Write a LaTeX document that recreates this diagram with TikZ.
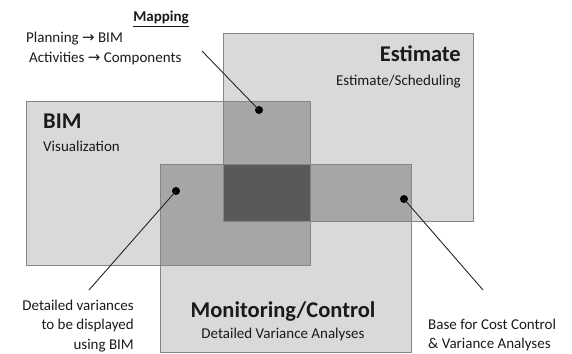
\documentclass[tikz,border=0pt]{standalone}
\usepackage{fontspec}
\setmainfont{Carlito}
\newfontfamily\arrowfont{DejaVu Sans}
\newcommand{\rarr}{{\arrowfont\char"2192}}
\definecolor{lightfill}{HTML}{D9D9D9}
\definecolor{midfill}{HTML}{A6A6A6}
\definecolor{darkfill}{HTML}{595959}
\definecolor{edgegray}{HTML}{858585}
\definecolor{inkcol}{HTML}{1A1A1A}
\tikzset{
  x=1pt, y=-1pt,
  panel/.style={draw=edgegray, line width=0.8pt},
  pin/.style={circle, fill=black, inner sep=0pt, minimum size=8pt},
  leader/.style={draw=black!85, line width=0.9pt},
  lbl/.style={inner sep=0pt, text=inkcol, font=\fontsize{15}{18}\selectfont},
  title/.style={inner sep=0pt, text=inkcol, font=\fontsize{22.5}{26}\bfseries\selectfont},
  sub/.style={inner sep=0pt, text=inkcol, font=\fontsize{15}{18}\selectfont},
}
\begin{document}
\begin{tikzpicture}
\useasboundingbox (0,0) rectangle (572,353);
% three panels
\fill[lightfill] (223,33) rectangle (473,221);
\fill[lightfill] (26,101) rectangle (310,265);
\fill[lightfill] (160,164) rectangle (411,352);
% pairwise overlaps
\fill[midfill] (223,101) rectangle (310,221);
\fill[midfill] (160,164) rectangle (310,265);
\fill[midfill] (223,164) rectangle (411,221);
% common region
\fill[darkfill] (223,164) rectangle (310,221);
% outlines
\draw[panel] (223,33) rectangle (473,221);
\draw[panel] (26,101) rectangle (310,265);
\draw[panel] (160,164) rectangle (411,352);

% panel titles
\node[title, anchor=base east] (esttitle) at (461,61) {Estimate};
\node[sub, anchor=base east] (estsub) at (461,85) {Estimate/Scheduling};
\node[title, anchor=base west] (bimtitle) at (43,128) {BIM};
\node[sub, anchor=base west] (bimsub) at (43,151) {Visualization};
\node[title, anchor=base] (montitle) at (283,317) {Monitoring/Control};
\node[sub, anchor=base] (monsub) at (283,338) {Detailed Variance Analyses};

% mapping note
\node[lbl, anchor=base, font=\fontsize{15}{18}\bfseries\selectfont] (maphead) at (161,22) {\underline{Mapping}};
\node[lbl, anchor=base west] (map1) at (26,42) {Planning \rarr\ BIM};
\node[lbl, anchor=base west] (map2) at (29,63) {Activities \rarr\ Components};

% side notes (base anchor sits on the last line)
\node[lbl, anchor=base east, align=right, font=\fontsize{15}{19.5}\selectfont] (noteleft) at (134,349) {Detailed variances\\to be displayed\\using BIM};
\node[lbl, anchor=base west, align=left, font=\fontsize{15}{19}\selectfont] (noteright) at (428,348) {Base for Cost Control\\\& Variance Analyses};

% pins and leaders
\node[pin] (pinA) at (259,110) {};
\node[pin] (pinB) at (176,191) {};
\node[pin] (pinC) at (404,199) {};
\coordinate (endA) at (202,51);
\coordinate (endB) at (89,290);
\coordinate (endC) at (483,290);
\draw[leader] (pinA.center) -- (endA);
\draw[leader] (pinB.center) -- (endB);
\draw[leader] (pinC.center) -- (endC);
\end{tikzpicture}
\end{document}
